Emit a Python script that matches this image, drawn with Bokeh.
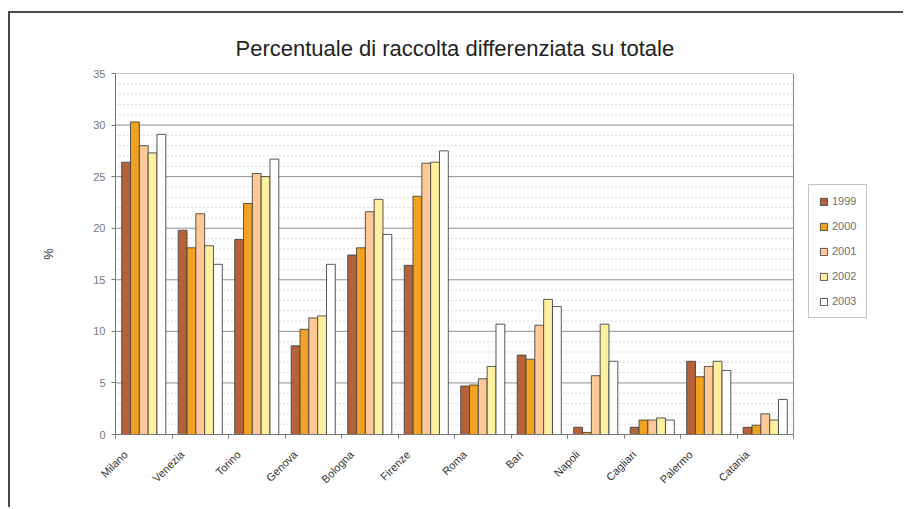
import math
from bokeh.plotting import figure
from bokeh.models import FixedTicker, Legend, LegendItem, ColumnDataSource
from bokeh.embed import file_html
from bokeh.resources import INLINE

cities = ["Milano", "Venezia", "Torino", "Genova", "Bologna", "Firenze",
          "Roma", "Bari", "Napoli", "Cagliari", "Palermo", "Catania"]
years = ["1999", "2000", "2001", "2002", "2003"]
v1999 = [26.4, 19.8, 18.9, 8.6, 17.4, 16.4, 4.7, 7.7, 0.7, 0.7, 7.1, 0.7]
v2000 = [30.3, 18.1, 22.4, 10.2, 18.1, 23.1, 4.8, 7.3, 0.2, 1.4, 5.6, 0.9]
v2001 = [28.0, 21.4, 25.3, 11.3, 21.6, 26.3, 5.4, 10.6, 5.7, 1.4, 6.6, 2.0]
v2002 = [27.3, 18.3, 25.0, 11.5, 22.8, 26.4, 6.6, 13.1, 10.7, 1.6, 7.1, 1.4]
v2003 = [29.1, 16.5, 26.7, 16.5, 19.4, 27.5, 10.7, 12.4, 7.1, 1.4, 6.2, 3.4]
series = [v1999, v2000, v2001, v2002, v2003]
colors = ["#B4623A", "#F2A21E", "#FFC896", "#FFF0A0", "#FFFFFF"]
y_major = list(range(0, 36, 5))
y_minor = [v for v in range(0, 36) if v % 5 != 0]

FONT = "Liberation Sans"
n = len(cities)
# the frame extends to the right to host the legend; plot area is x in [0, n]
x_end = n * (885 - 115) / 678.0

p = figure(width=895, height=496, output_backend="svg", toolbar_location=None,
           x_range=(0, x_end), y_range=(0, 35),
           min_border_left=105, min_border_right=20, min_border_top=60,
           min_border_bottom=75,
           title="Percentuale di raccolta differenziata su totale")
p.styles = {"margin-left": "8px", "margin-top": "11px",
            "border-left": "2px solid #4a4a4a", "border-top": "2px solid #4a4a4a"}

p.title.align = "left"
p.title.offset = 120
p.title.standoff = 25
p.title.text_font = FONT
p.title.text_font_size = "22px"
p.title.text_font_style = "normal"
p.title.text_color = "#222222"

p.outline_line_color = None
p.background_fill_color = "white"
p.border_fill_color = "white"
p.xgrid.grid_line_color = None
p.ygrid.grid_line_color = None

# grid lines limited to plot area
p.segment(x0=[0] * len(y_minor), x1=[n] * len(y_minor), y0=y_minor, y1=y_minor,
          line_color="#b5b5b5", line_dash="1 3", line_width=1)
p.segment(x0=[0] * len(y_major), x1=[n] * len(y_major), y0=y_major, y1=y_major,
          line_color="#8f8f8f", line_width=1)
# right border of plot area
p.segment(x0=[n], x1=[n], y0=[0], y1=[35], line_color="#8a8a8a", line_width=1)

bw = 0.156
items = []
for k, (vals, col, yr) in enumerate(zip(series, colors, years)):
    xs = [i + 0.5 + (k - 2) * bw for i in range(n)]
    src = ColumnDataSource(dict(x=xs, top=vals))
    r = p.vbar(x="x", top="top", bottom=0, width=bw, source=src,
               fill_color=col, line_color="#444444", line_width=0.9)
    items.append(LegendItem(label=yr, renderers=[r]))

# x axis: labels near group centres, tick marks at group boundaries (minor)
label_pos = [i + 0.18 for i in range(n)]
p.xaxis.ticker = FixedTicker(ticks=label_pos, minor_ticks=list(range(n + 1)))
p.xaxis.major_label_overrides = {c: name for c, name in zip(label_pos, cities)}
p.xaxis.major_label_orientation = math.pi / 4
p.xaxis.bounds = (0, n)
p.xaxis.major_tick_line_color = None
p.xaxis.minor_tick_in = 0
p.xaxis.minor_tick_out = 4
p.xaxis.minor_tick_line_color = "#777777"
p.xaxis.axis_line_color = "#777777"
p.xaxis.major_label_text_font = FONT
p.xaxis.major_label_text_font_size = "11px"
p.xaxis.major_label_text_color = "#333333"
p.xaxis.major_label_standoff = 12

# y axis
p.yaxis.ticker = FixedTicker(ticks=y_major)
p.yaxis.axis_label = "%"
p.yaxis.axis_label_text_font = FONT
p.yaxis.axis_label_text_font_size = "13px"
p.yaxis.axis_label_text_font_style = "normal"
p.yaxis.axis_label_text_color = "#333333"
p.yaxis.axis_label_standoff = 34
p.yaxis.major_label_text_font = FONT
p.yaxis.major_label_text_font_size = "11px"
p.yaxis.major_label_text_color = "#777777"
p.yaxis.axis_line_color = "#777777"
p.yaxis.major_tick_line_color = "#777777"
p.yaxis.major_tick_out = 4
p.yaxis.major_tick_in = 0
p.yaxis.minor_tick_line_color = None
p.yaxis.major_label_standoff = 6

legend = Legend(items=items, location=(693, 116), orientation="vertical")
legend.border_line_color = "#8a8a8a"
legend.border_line_width = 1
legend.background_fill_color = "white"
legend.background_fill_alpha = 1
legend.label_text_font = FONT
legend.label_text_font_size = "11px"
legend.label_text_color = "#707070"
legend.glyph_width = 9
legend.glyph_height = 9
legend.label_height = 12
legend.label_standoff = 4
legend.spacing = 13
legend.padding = 10
legend.margin = 0
p.add_layout(legend, "center")

open("out.html", "w").write(file_html(p, INLINE))
